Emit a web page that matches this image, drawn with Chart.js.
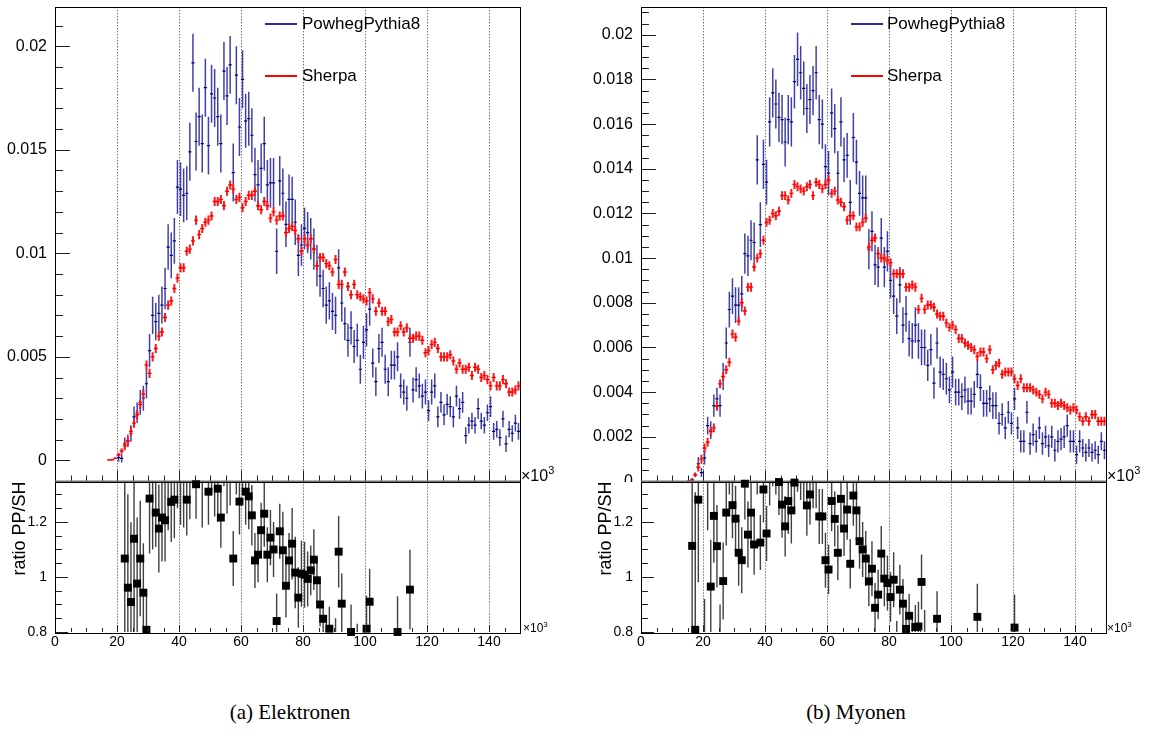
<!DOCTYPE html>
<html>
<head>
<meta charset="utf-8">
<script src="https://cdn.jsdelivr.net/npm/chart.js"></script>
<style>
  body { margin: 0; background: #fff; }
  #wrap { position: relative; width: 1150px; height: 753px; font-family: 'Liberation Sans', Arial, sans-serif; }
  canvas { position: absolute; }
  .lg { position: absolute; width: 32px; height: 1.5px; }
  .tx { position: absolute; font-size: 17px; line-height: 20px; white-space: nowrap; }
  .ex { position: absolute; white-space: nowrap; line-height: 16px; }
  .ex span { position: relative; line-height: 0; }
  .cap { position: absolute; width: 300px; text-align: center; font-family: 'Liberation Serif', 'Times New Roman', serif; font-size: 21px; line-height: 24px; }
</style>
</head>
<body>
<div id="wrap">
  <canvas id="elMain" width="570" height="482" style="left:0;top:0"></canvas>
  <canvas id="elRatio" width="570" height="175" style="left:0;top:478px"></canvas>
  <canvas id="muMain" width="564" height="482" style="left:586px;top:0"></canvas>
  <canvas id="muRatio" width="564" height="175" style="left:586px;top:478px"></canvas>

  <div class="lg" style="left:265px;top:23px;background:#2a2aa4"></div>
  <div class="tx" style="left:302px;top:14px">PowhegPythia8</div>
  <div class="lg" style="left:265px;top:75px;background:#ff0000"></div>
  <div class="tx" style="left:302px;top:66px">Sherpa</div>

  <div class="lg" style="left:851px;top:23px;background:#2a2aa4"></div>
  <div class="tx" style="left:887px;top:14px">PowhegPythia8</div>
  <div class="lg" style="left:851px;top:75px;background:#ff0000"></div>
  <div class="tx" style="left:887px;top:66px">Sherpa</div>

  <div class="ex" style="left:521px;top:468px;font-size:16px">×10<span style="font-size:11px;top:-7px">3</span></div>
  <div class="ex" style="left:523px;top:620px;font-size:12px">×10<span style="font-size:8px;top:-5px">3</span></div>
  <div class="ex" style="left:1107px;top:468px;font-size:16px">×10<span style="font-size:11px;top:-7px">3</span></div>
  <div class="ex" style="left:1107px;top:620px;font-size:12px">×10<span style="font-size:8px;top:-5px">3</span></div>

  <div class="cap" style="left:140px;top:700px">(a) Elektronen</div>
  <div class="cap" style="left:706px;top:700px">(b) Myonen</div>
</div>

<script>
// x in units of 10^3, one bin = 1
// Elektronen, Sherpa (bins 17..149)
var elStartSH = 17;
var elSH = [
  0.00002,0.00003,0.0001,0.00027,0.00045,0.0007,0.00093,0.0014,0.0018,0.0022,
  0.0027,0.0032,0.0046,0.0042,0.005,0.0054,0.006,0.0062,0.0069,0.0075,
  0.0077,0.0083,0.0088,0.0093,0.0093,0.0101,0.0102,0.0106,0.0116,0.0109,
  0.0112,0.0115,0.0116,0.0118,0.0125,0.0125,0.0126,0.0123,0.013,0.0133,
  0.0131,0.0126,0.0127,0.0122,0.0125,0.0128,0.0128,0.013,0.0123,0.0121,
  0.0125,0.0123,0.0117,0.012,0.0116,0.0118,0.0118,0.011,0.0112,0.0113,
  0.0111,0.0107,0.0101,0.0107,0.0104,0.0107,0.0102,0.0094,0.0098,0.0098,
  0.0095,0.0094,0.0091,0.0097,0.0085,0.0085,0.0091,0.0084,0.008,0.0085,
  0.008,0.0079,0.0078,0.0077,0.0081,0.0078,0.0072,0.0076,0.0072,0.0072,
  0.0067,0.0068,0.0062,0.0062,0.0065,0.0062,0.0064,0.0059,0.0059,0.006,
  0.006,0.0058,0.0052,0.0053,0.0056,0.0057,0.0054,0.005,0.005,0.005,
  0.0051,0.0048,0.0044,0.0047,0.0044,0.0044,0.0045,0.0041,0.0045,0.0044,
  0.004,0.0041,0.0039,0.0036,0.004,0.0036,0.0036,0.0039,0.0037,0.0033,
  0.0033,0.0034,0.0036
];
var elSHerr = 0.00022;

// Elektronen, PowhegPythia8 (bins 20..149), errors in 1e-4
var elStartPP = 20;
var elPP = [
  0.00013,0.0001,0.0008,0.00095,0.0013,0.0021,0.0023,0.0028,0.003,0.0037,
  0.0053,0.007,0.0067,0.0071,0.0075,0.0083,0.0103,0.0099,0.0106,0.0132,
  0.0131,0.0128,0.0129,0.0149,0.0192,0.0154,0.0166,0.0153,0.018,0.0152,
  0.0177,0.0175,0.0166,0.0153,0.0188,0.0176,0.0191,0.0139,0.0186,0.0161,
  0.0184,0.0164,0.0165,0.0157,0.0138,0.0133,0.0141,0.0153,0.0133,0.0134,
  0.0134,0.0101,0.0135,0.0129,0.0114,0.0126,0.0126,0.0115,0.0099,0.0104,
  0.0112,0.011,0.0107,0.0102,0.0094,0.0089,0.0083,0.0075,0.0077,0.0072,
  0.007,0.0093,0.0076,0.0066,0.0058,0.0064,0.0055,0.0058,0.0044,0.0057,
  0.0063,0.0073,0.0047,0.0038,0.0054,0.0057,0.0044,0.0038,0.0046,0.0046,
  0.005,0.0036,0.0033,0.003,0.0057,0.0034,0.0039,0.0036,0.0031,0.0033,
  0.0024,0.0033,0.0036,0.0021,0.0028,0.0022,0.0027,0.0026,0.0021,0.0031,
  0.0025,0.0028,0.0012,0.0017,0.0019,0.0017,0.0025,0.0019,0.0017,0.0023,
  0.0026,0.0014,0.0015,0.0011,0.002,0.0008,0.0015,0.0013,0.0018,0.0014
];
var elPPerr = [
  2,2,3,3,4,5,5,6,6,7,
  8,9,9,9,9,10,11,11,11,13,
  13,13,13,14,14,14,14,14,14,14,
  14,14,14,14,14,14,14,14,14,14,
  14,13,13,13,13,12,12,13,12,12,
  12,11,12,12,11,12,11,11,10,10,
  10,10,10,10,10,10,9,9,9,9,
  9,9,9,8,8,8,8,8,7,8,
  8,8,7,7,7,7,7,7,7,7,
  7,6,6,6,7,6,6,6,6,6,
  5,6,6,5,5,5,5,5,5,5,
  5,5,4,4,4,4,5,4,4,4,
  5,4,4,4,4,4,4,4,4,4
];

// Myonen, Sherpa (bins 15..149)
var muStartSH = 15;
var muSH = [
  0.00003,0.00007,0.0003,0.00064,0.001,0.0015,0.00176,0.00224,0.0024,0.00337,
  0.00437,0.0047,0.005,0.00534,0.0066,0.00646,0.00718,0.008,0.00763,0.0087,
  0.0087,0.0096,0.01,0.0102,0.0108,0.0116,0.0117,0.012,0.0119,0.0121,
  0.0128,0.0128,0.0126,0.0129,0.0133,0.0132,0.0131,0.013,0.0132,0.0133,
  0.0128,0.0134,0.0133,0.0131,0.0133,0.0135,0.0129,0.013,0.0126,0.0125,
  0.0123,0.0117,0.0119,0.0119,0.0114,0.0114,0.0116,0.0118,0.0105,0.0108,
  0.0109,0.0102,0.01,0.01,0.0099,0.0098,0.0093,0.0093,0.0093,0.0093,
  0.0087,0.0087,0.0088,0.0087,0.0077,0.0082,0.0077,0.0079,0.0079,0.0078,
  0.0075,0.0074,0.0074,0.0071,0.0069,0.007,0.0068,0.0064,0.0064,0.0062,
  0.0061,0.006,0.0059,0.0056,0.0058,0.0058,0.0055,0.0059,0.005,0.0052,
  0.0053,0.0048,0.0049,0.0049,0.0049,0.0046,0.0043,0.0046,0.0042,0.0042,
  0.0042,0.0041,0.004,0.0039,0.0037,0.004,0.0039,0.0035,0.0035,0.0034,
  0.0035,0.0034,0.0033,0.0032,0.0033,0.0032,0.0029,0.0027,0.0029,0.0027,
  0.003,0.003,0.0027,0.0027,0.0027
];
var muSHerr = 0.0002;

// Myonen, PowhegPythia8 (bins 16..149), errors in 1e-4
var muStartPP = 16;
var muPP = [
  0.00007,0.0003,0.0008,0.0004,0.00106,0.0025,0.0023,0.0034,0.0037,0.0034,
  0.0047,0.0062,0.0077,0.0083,0.0079,0.0079,0.0084,0.0102,0.0101,0.0108,
  0.0107,0.0144,0.0115,0.0142,0.0134,0.0161,0.0174,0.0169,0.0163,0.0162,
  0.0152,0.0162,0.0161,0.0179,0.0189,0.0183,0.0176,0.0167,0.0171,0.0175,
  0.0183,0.0162,0.016,0.0141,0.0138,0.0165,0.0158,0.0138,0.0161,0.0144,
  0.0146,0.0125,0.0154,0.0143,0.0129,0.0127,0.0127,0.0104,0.0112,0.0097,
  0.0096,0.0109,0.0096,0.0103,0.009,0.0083,0.0074,0.0088,0.007,0.0075,
  0.0064,0.0063,0.007,0.0063,0.006,0.006,0.0052,0.0059,0.0044,0.0062,
  0.0049,0.0048,0.0046,0.0041,0.0049,0.004,0.004,0.0038,0.0041,0.0036,
  0.0036,0.0039,0.0048,0.0042,0.0035,0.0035,0.0037,0.0034,0.0034,0.0026,
  0.003,0.0024,0.0031,0.0026,0.0037,0.0024,0.0018,0.0018,0.0031,0.0017,
  0.0021,0.0018,0.0024,0.0017,0.002,0.0016,0.002,0.0014,0.0018,0.0019,
  0.002,0.0025,0.0018,0.0018,0.0012,0.0018,0.0015,0.0013,0.0015,0.0013,
  0.0014,0.0012,0.0018,0.0014
];
var muPPerr = [
  1,1,3,2,3,4,4,5,5,5,
  6,7,8,8,8,8,8,9,9,9,
  9,11,10,11,10,11,11,11,11,11,
  11,11,11,12,12,12,12,11,11,11,
  12,11,11,10,10,11,11,10,11,10,
  10,10,11,10,10,10,10,9,9,9,
  9,9,9,9,8,8,8,8,8,8,
  8,8,8,8,8,8,7,7,7,7,
  7,7,7,6,7,6,6,6,6,6,
  6,6,6,6,6,6,6,6,6,5,
  5,5,5,5,5,5,5,5,5,5,
  5,5,5,5,5,5,5,5,5,5,
  5,5,5,5,4,5,4,4,4,4,
  4,4,4,4
];

// ratio PP/SH
var elRatioBins = [22,23,24,25,26,27,28,29,30,31,32,33,34,35,36,37,38,39,40,41,42,43,44,45,46,47,48,49,50,51,52,53,54,55,56,57,58,59,60,61,62,63,64,65,66,67,68,69,70,71,72,73,74,75,76,77,78,79,80,81,82,83,84,85,86,87,88,90,91,92,95,97,100,101,110,114];
var elRatio = [1.067,0.961,0.909,1.139,0.976,1.067,0.943,0.808,1.285,1.40,1.234,1.176,1.216,1.206,1.37,1.273,1.281,1.50,1.41,1.36,1.281,1.46,1.8,1.337,1.52,1.40,1.57,1.31,1.5,1.42,1.321,1.216,1.53,1.38,1.44,1.067,1.48,1.274,1.5,1.31,1.293,1.224,1.06,1.081,1.17,1.23,1.081,1.143,1.1,0.84,1.166,1.097,0.968,1.06,1.121,1.016,0.925,1.012,1.008,0.993,1.024,1.063,0.988,0.9,0.848,0.72,0.812,0.72,1.092,0.903,0.8,0.7,0.812,0.91,0.8,0.954];
var elRatioErr = [0.36,0.34,0.29,0.34,0.24,0.21,0.18,0.13,0.2,0.3,0.125,0.16,0.16,0.15,0.2,0.146,0.14,0.25,0.22,0.18,0.13,0.25,0.2,0.125,0.18,0.22,0.2,0.12,0.2,0.2,0.12,0.11,0.2,0.15,0.18,0.1,0.18,0.12,0.18,0.12,0.12,0.11,0.1,0.1,0.1,0.12,0.1,0.1,0.1,0.1,0.1,0.14,0.115,0.1,0.13,0.13,0.11,0.12,0.12,0.1,0.09,0.11,0.08,0.08,0.06,0.12,0.08,0.13,0.13,0.11,0.1,0.13,0.12,0.12,0.13,0.145];

var muRatioBins = [16,17,18,19,20,21,22,23,24,25,26,27,28,29,30,31,32,33,34,35,36,37,38,39,40,41,42,43,44,45,46,47,48,49,50,51,52,53,54,55,56,57,58,59,60,61,62,63,64,65,66,67,68,69,70,71,72,73,74,75,76,77,78,79,80,81,82,83,84,85,86,87,88,89,90,91,95,108,120];
var muRatio = [1.113,0.808,1.281,0.45,0.72,1.42,0.965,1.222,1.112,0.78,0.985,1.234,1.45,1.261,1.212,1.088,1.061,1.339,1.154,1.234,1.118,1.44,1.125,1.318,1.158,1.38,1.45,1.42,1.345,1.263,1.184,1.276,1.242,1.343,1.43,1.4,1.36,1.26,1.3,1.37,1.37,1.22,1.22,1.061,1.027,1.276,1.211,1.088,1.284,1.176,1.245,1.048,1.296,1.242,1.13,1.1,1.067,0.984,1.03,0.888,0.936,1.085,0.994,0.978,0.927,0.99,0.76,0.954,0.903,0.811,0.859,0.75,0.818,0.82,0.982,0.78,0.848,0.855,0.816];
var muRatioErr = [0.45,0.5,0.3,0.3,0.2,0.25,0.17,0.17,0.15,0.12,0.14,0.12,0.15,0.12,0.12,0.12,0.12,0.13,0.12,0.12,0.11,0.14,0.1,0.12,0.1,0.12,0.12,0.12,0.12,0.12,0.11,0.12,0.12,0.11,0.12,0.12,0.11,0.11,0.11,0.12,0.12,0.1,0.1,0.1,0.09,0.11,0.1,0.1,0.11,0.1,0.11,0.09,0.11,0.11,0.1,0.1,0.1,0.09,0.1,0.09,0.09,0.1,0.1,0.1,0.09,0.1,0.08,0.09,0.09,0.08,0.08,0.12,0.08,0.09,0.1,0.1,0.1,0.12,0.12];

var ratioMin = 0.8, ratioMax = 1.347;

Chart.defaults.font.family = "'Liberation Sans', Arial, sans-serif";
Chart.defaults.color = '#000';
Chart.defaults.animation = false;
Chart.defaults.events = [];
Chart.defaults.plugins.legend.display = false;
Chart.defaults.plugins.tooltip.enabled = false;

// ROOT-style frame: box plus ticks pointing inwards
var rootFrame = {
  id: 'rootFrame',
  afterDatasetsDraw: function (chart, args, o) {
    var ctx = chart.ctx, a = chart.chartArea, x = chart.scales.x, y = chart.scales.y;
    ctx.save();
    ctx.strokeStyle = '#222';
    ctx.lineWidth = 1;
    ctx.beginPath();
    for (var i = 0; i * o.xMinor <= x.max + 1e-9; i++) {
      var px = Math.round(x.getPixelForValue(i * o.xMinor)) + 0.5;
      var len = (i % o.xDiv === 0) ? o.xLen[0] : o.xLen[1];
      ctx.moveTo(px, a.bottom);
      ctx.lineTo(px, a.bottom - len);
    }
    var n0 = Math.ceil(y.min / o.yMinor - 1e-6), n1 = Math.floor(y.max / o.yMinor + 1e-6);
    for (var j = n0; j <= n1; j++) {
      var py = Math.round(y.getPixelForValue(j * o.yMinor)) + 0.5;
      var l2 = (j % o.yDiv === 0) ? o.yLen[0] : o.yLen[1];
      ctx.moveTo(a.left, py);
      ctx.lineTo(a.left + l2, py);
    }
    ctx.stroke();
    ctx.strokeStyle = '#000';
    ctx.strokeRect(Math.round(a.left) + 0.5, Math.round(a.top) + 0.5, Math.round(a.width), Math.round(a.height));
    if (o.grayBottom) {
      ctx.strokeStyle = '#777';
      ctx.lineWidth = 2;
      ctx.beginPath();
      ctx.moveTo(a.left, a.bottom);
      ctx.lineTo(a.right, a.bottom);
      ctx.stroke();
    }
    ctx.restore();
  }
};

function errBars(start, vals, errs) {
  return vals.map(function (v, i) {
    var e = Array.isArray(errs) ? errs[i] * 1e-4 : Math.min(errs, v * 0.3);
    return { x: start + i + 0.5, y: [v - e, v + e] };
  });
}
function centers(start, vals) {
  return vals.map(function (v, i) { return { x: start + i + 0.5, y: v }; });
}
function fmt(v) { return String(parseFloat(Number(v).toFixed(4))); }

function histSets(shStart, sh, shErr, ppStart, pp, ppErr) {
  return [
    { type: 'scatter', data: centers(shStart, sh), pointStyle: 'line', pointRadius: 2,
      pointBorderColor: '#ff0000', pointBorderWidth: 1.4, clip: 0 },
    { type: 'bar', data: errBars(shStart, sh, shErr), backgroundColor: '#ff1a1a',
      barThickness: 2, inflateAmount: 0, grouped: false, borderWidth: 0, clip: 0 },
    { type: 'scatter', data: centers(ppStart, pp), pointStyle: 'line', pointRadius: 1.6,
      pointBorderColor: '#000070', pointBorderWidth: 1.2, clip: 0 },
    { type: 'bar', data: errBars(ppStart, pp, ppErr), backgroundColor: 'rgba(30,30,155,0.85)',
      barThickness: 1.5, inflateAmount: 0, grouped: false, borderWidth: 0, clip: 0 }
  ];
}

function ratioSets(bins, vals, errs) {
  var marks = [];
  bins.forEach(function (b, i) {
    if (vals[i] >= ratioMin && vals[i] <= ratioMax) marks.push({ x: b + 0.5, y: vals[i] });
  });
  return [
    { type: 'scatter', data: marks, pointStyle: 'rect', pointRadius: 5.6,
      pointBackgroundColor: '#000', pointBorderWidth: 0, clip: false },
    { type: 'bar', data: bins.map(function (b, i) { return { x: b + 0.5, y: [vals[i] - errs[i], vals[i] + errs[i]] }; }),
      backgroundColor: '#404040', barThickness: 1.4, inflateAmount: 0, grouped: false, borderWidth: 0, clip: 0 }
  ];
}

function xScale(showLabels, h) {
  return {
    type: 'linear', min: 0, max: 150, offset: false,
    ticks: { display: showLabels, stepSize: 20, includeBounds: false, maxRotation: 0, autoSkip: false,
             padding: 2, font: { size: 14 } },
    grid: { display: true, offset: false, drawTicks: false, color: '#333', lineWidth: 1 },
    border: { display: false, dash: [1, 2] },
    afterFit: function (s) { s.height = h; s.paddingLeft = 0; s.paddingRight = 0; }
  };
}

function yScale(min, max, step, size, title) {
  return {
    type: 'linear', min: min, max: max,
    ticks: { stepSize: step, includeBounds: false, padding: 8, font: { size: size }, callback: fmt },
    grid: { display: false, drawTicks: false },
    border: { display: false },
    title: title ? { display: true, text: title, align: 'end', font: { size: 18 }, padding: { top: 9, bottom: 0 } } : { display: false },
    afterFit: function (s) { s.width = 55; s.paddingTop = 0; s.paddingBottom = 0; }
  };
}

function mainChart(id, sets, yMin, yMax, yStep, yMinor, yDiv, padRight) {
  return new Chart(document.getElementById(id), {
    type: 'scatter',
    data: { datasets: sets },
    options: {
      responsive: false,
      layout: { autoPadding: false, padding: { left: 0, right: padRight, top: 7.3, bottom: 0 } },
      scales: { x: xScale(false, 0.5), y: yScale(yMin, yMax, yStep, 16) },
      plugins: { rootFrame: { xMinor: 5, xDiv: 4, xLen: [11, 6], yMinor: yMinor, yDiv: yDiv, yLen: [15, 8], grayBottom: true } }
    },
    plugins: [rootFrame]
  });
}

function ratioChart(id, sets, padRight) {
  return new Chart(document.getElementById(id), {
    type: 'scatter',
    data: { datasets: sets },
    options: {
      responsive: false,
      layout: { autoPadding: false, padding: { left: 0, right: padRight, top: 3.5, bottom: 0 } },
      scales: { x: xScale(true, 21), y: yScale(ratioMin, ratioMax, 0.2, 14, 'ratio PP/SH') },
      plugins: { rootFrame: { xMinor: 5, xDiv: 4, xLen: [7, 4], yMinor: 0.05, yDiv: 4, yLen: [13, 7], grayBottom: false } }
    },
    plugins: [rootFrame]
  });
}

mainChart('elMain', histSets(elStartSH, elSH, elSHerr, elStartPP, elPP, elPPerr), -0.00102, 0.02188, 0.005, 0.001, 5, 50);
ratioChart('elRatio', ratioSets(elRatioBins, elRatio, elRatioErr), 50);
mainChart('muMain', histSets(muStartSH, muSH, muSHerr, muStartPP, muPP, muPPerr), 0, 0.02123, 0.002, 0.0005, 4, 44);
ratioChart('muRatio', ratioSets(muRatioBins, muRatio, muRatioErr), 44);
</script>
</body>
</html>
